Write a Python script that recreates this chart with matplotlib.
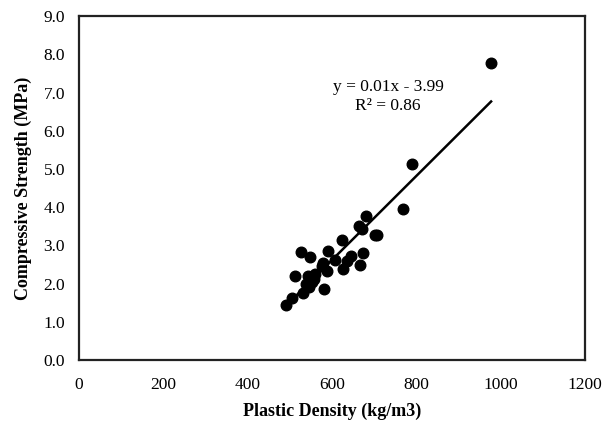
import numpy as np
import matplotlib
matplotlib.use("Agg")
import matplotlib.pyplot as plt

# plastic density (kg/m3) vs compressive strength (MPa)
density = [977, 790, 767, 681, 663, 672, 702, 707, 624, 527, 548, 590, 673,
           607, 645, 579, 636, 666, 627, 587, 575, 511, 542, 560, 552, 546,
           581, 530, 504, 491, 556, 538]
strength = [7.77, 5.13, 3.96, 3.77, 3.50, 3.43, 3.26, 3.28, 3.15, 2.83, 2.70,
            2.85, 2.80, 2.62, 2.72, 2.54, 2.59, 2.49, 2.39, 2.33, 2.45, 2.19,
            2.21, 2.26, 2.04, 1.91, 1.85, 1.74, 1.63, 1.43, 2.12, 1.98]

x_ticks = [0, 200, 400, 600, 800, 1000, 1200]
y_ticks = [0, 1, 2, 3, 4, 5, 6, 7, 8, 9]
eq_text = "y = 0.01x - 3.99\nR² = 0.86"

plt.rcParams['font.family'] = ['Liberation Serif', 'DejaVu Serif']

fig = plt.figure(figsize=(6.14, 4.24), dpi=100)
ax = fig.add_axes([0.1287, 0.151, 0.8243, 0.811])

ax.scatter(density, strength, s=58, color='black', zorder=3)

# linear trend over the data range
coef = np.polyfit(density, strength, 1)
xs = np.array([min(density), max(density)])
ax.plot(xs, np.polyval(coef, xs), color='black', lw=1.8, zorder=2)

ax.text(733, 6.9, eq_text, ha='center', va='center', fontsize=12.5,
        linespacing=1.3)

ax.set_xlim(0, 1200)
ax.set_ylim(0, 9)
ax.set_xticks(x_ticks)
ax.set_yticks(y_ticks)
ax.set_yticklabels([f"{v:.1f}" for v in y_ticks])
ax.tick_params(length=0, labelsize=12.5)
ax.tick_params(axis='x', pad=12)
ax.tick_params(axis='y', pad=10)
for s in ax.spines.values():
    s.set_linewidth(1.6)
    s.set_color('#222222')

ax.set_xlabel("Plastic Density (kg/m3)", fontsize=13, fontweight='bold', labelpad=7)
ax.set_ylabel("Compressive Strength (MPa)", fontsize=13, fontweight='bold', labelpad=8)

fig.savefig("out.png", dpi=100)
